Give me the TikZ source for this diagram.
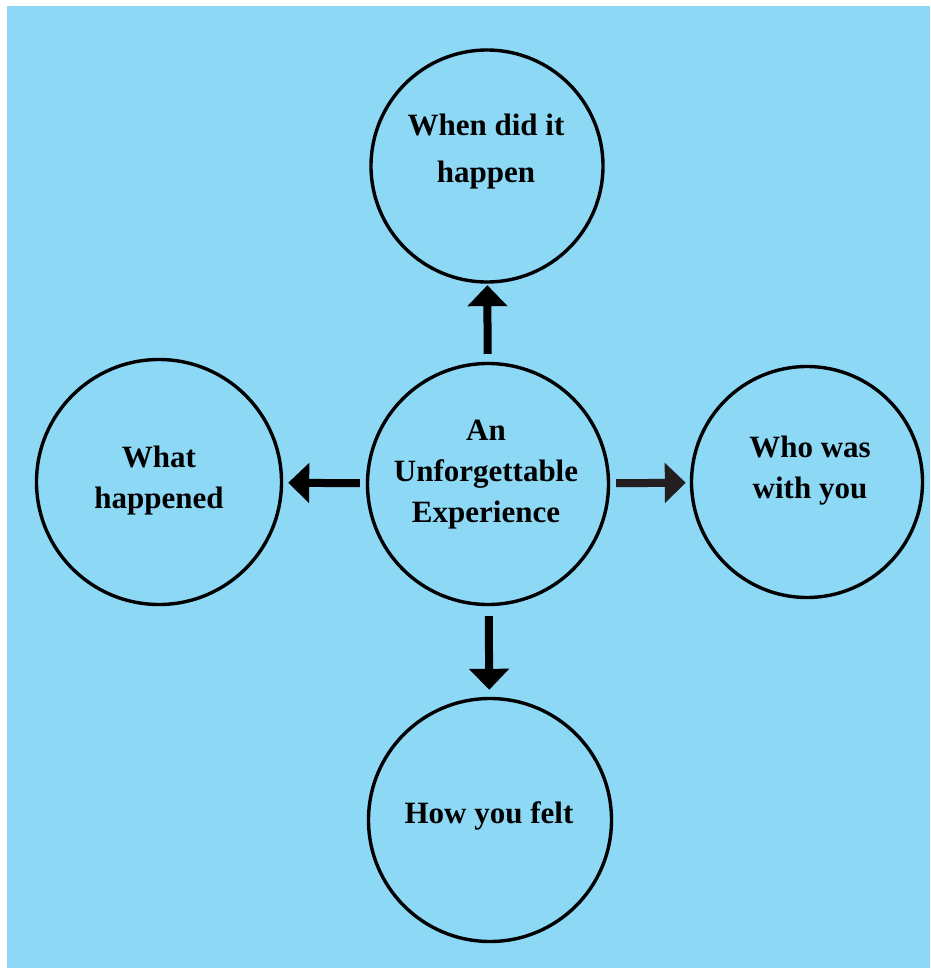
\documentclass[tikz,border=0pt]{standalone}
\usepackage{fontspec}
\setmainfont{Liberation Serif}
\usetikzlibrary{arrows.meta}
\definecolor{skyback}{RGB}{140,216,245}
\definecolor{arrowgray}{RGB}{35,31,32}
\tikzset{
  bubble/.style={circle,draw,line width=3.4pt,inner sep=0pt},
  words/.style={align=center,font=\bfseries\fontsize{31}{41}\selectfont},
  pointer/.style={line width=8pt,-{Triangle[length=21pt,width=39pt]},shorten <=6pt,shorten >=5pt}
}
\begin{document}
\begin{tikzpicture}[x=1pt,y=-1pt]
\useasboundingbox (0,0) rectangle (930,968);
\fill[skyback] (7,6) rectangle (930,968);
% circles
\node (A) at (488,484) [bubble,minimum size=241pt] {};
\node (B) at (487,166) [bubble,minimum size=232pt] {};
\node (C) at (807,482) [bubble,minimum size=231pt] {};
\node (D) at (490,820) [bubble,minimum size=243pt] {};
\node (E) at (159,482) [bubble,minimum size=245pt] {};
% texts
\node (a) at (486,475) [words] {An\\Unforgettable\\Experience};
\node (b) at (486,152) [words,font=\bfseries\fontsize{31}{47}\selectfont] {When did it\\happen};
\node (c) at (810,471) [words] {Who was\\with you};
\node (d) at (489,816) [words] {How you felt};
\node (e) at (159,481) [words] {What\\happened};
% arrows
\draw[pointer,shorten <=8pt,shorten >=1.5pt] (A) -- (B);
\draw[pointer,arrowgray,shorten >=4pt] (A) -- (C);
\draw[pointer,shorten <=10pt,shorten >=7pt] (A) -- (D);
\draw[pointer] (A) -- (E);
\end{tikzpicture}
\end{document}
